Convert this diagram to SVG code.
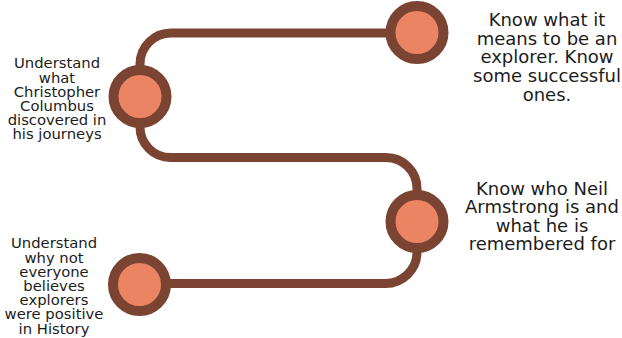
<svg xmlns="http://www.w3.org/2000/svg" width="622" height="338" viewBox="0 0 622 338">
<style>
.conn{fill:none;stroke:#7b4432;stroke-width:9;stroke-linecap:butt}
.dot{fill:#eb8462;stroke:#7b4432;stroke-width:10}
.lbl{font-family:"DejaVu Sans",sans-serif;fill:#1c1c1c;text-anchor:middle}
.big{font-size:18px}
.small{font-size:14.8px}
</style>
<rect width="622" height="338" fill="#ffffff"/>
<g id="connectors">
<path class="conn" d="M417 33 H171 A31 31 0 0 0 140 64 V96"/>
<path class="conn" d="M140 96 V127 A30.5 30.5 0 0 0 170.5 157.5 H386 A31 31 0 0 1 417 188.5 V221"/>
<path class="conn" d="M417 221 V252 A31.5 31.5 0 0 1 385.5 283.5 H140"/>
</g>
<g id="node1">
<circle class="dot" cx="417" cy="32.5" r="26.5"/>
<text class="lbl big"><tspan x="547" y="26">Know what it</tspan><tspan x="547" y="44.7">means to be an</tspan><tspan x="547" y="63.3">explorer. Know</tspan><tspan x="547" y="82">some successful</tspan><tspan x="547" y="100.6">ones.</tspan></text>
</g>
<g id="node2">
<circle class="dot" cx="140" cy="96.5" r="26.5"/>
<text class="lbl small"><tspan x="57" y="68.3">Understand</tspan><tspan x="57" y="82.5">what</tspan><tspan x="57" y="96.7">Christopher</tspan><tspan x="57" y="110.9">Columbus</tspan><tspan x="57" y="125.1">discovered in</tspan><tspan x="57" y="139.3">his journeys</tspan></text>
</g>
<g id="node3">
<circle class="dot" cx="417" cy="221.5" r="26.5"/>
<text class="lbl big"><tspan x="542" y="194.5">Know who Neil</tspan><tspan x="542" y="213.1">Armstrong is and</tspan><tspan x="542" y="231.7">what he is</tspan><tspan x="542" y="250.3">remembered for</tspan></text>
</g>
<g id="node4">
<circle class="dot" cx="139.5" cy="284.5" r="26.5"/>
<text class="lbl small"><tspan x="54" y="248.3">Understand</tspan><tspan x="54" y="262.5">why not</tspan><tspan x="54" y="276.7">everyone</tspan><tspan x="54" y="290.9">believes</tspan><tspan x="54" y="305.1">explorers</tspan><tspan x="54" y="319.3">were positive</tspan><tspan x="54" y="333.5">in History</tspan></text>
</g>
</svg>
